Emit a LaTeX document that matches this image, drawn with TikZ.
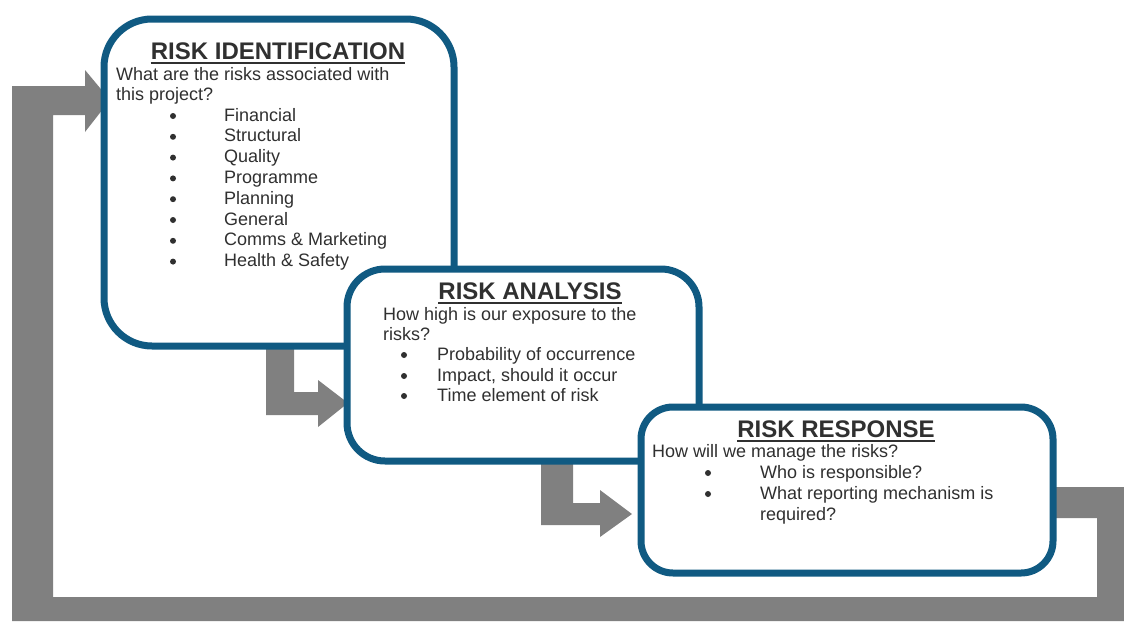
\documentclass[tikz,border=0pt]{standalone}
\usepackage{fontspec}
\setmainfont{Liberation Sans}
\definecolor{riskblue}{RGB}{16,90,130}
\definecolor{riskgrey}{RGB}{128,128,128}
\definecolor{risktext}{HTML}{303030}
\tikzset{
  riskbox/.style = {draw = riskblue, line width = 7pt, fill = white},
  blockarrow/.style = {fill = riskgrey},
  titletext/.style = {anchor = base, inner sep = 0pt, text = risktext,
    font = \fontsize{24}{28}\selectfont\bfseries},
  bodytext/.style = {anchor = base west, inner sep = 0pt, text = risktext,
    font = \fontsize{18}{20}\selectfont},
  rule/.style = {risktext, line width = 2pt}
}

\begin{document}
\begin{tikzpicture}[x = 1pt, y = -1pt]
\useasboundingbox (0,0) rectangle (1124,621);

% feedback loop from response back to identification
\fill[blockarrow] (1050,487) -- (1124,487) -- (1124,621) -- (12,621) -- (12,86)
  -- (85,86) -- (85,70) -- (110,100) -- (85,132) -- (85,115) -- (53,115)
  -- (53,597) -- (1097,597) -- (1097,518) -- (1050,518) -- cycle;
% step arrows
\fill[blockarrow] (266,349) -- (294,349) -- (294,392) -- (318,392) -- (318,380)
  -- (348,403) -- (318,427) -- (318,415) -- (266,415) -- cycle;
\fill[blockarrow] (541,460) -- (573,460) -- (573,503) -- (600,503) -- (600,490)
  -- (632,514) -- (600,537) -- (600,525) -- (541,525) -- cycle;

% identification
\draw[riskbox, rounded corners = 48pt] (104,19) rectangle (454,346);
\node[titletext] (idtitle) at (278,59) {RISK IDENTIFICATION};
\draw[rule] ([yshift = -3.5pt]idtitle.base west) -- ([yshift = -3.5pt]idtitle.base east);
\node[bodytext] (idq1) at (116,80) {What are the risks associated with};
\node[bodytext] (idq2) at (116,100) {this project?};
\node[bodytext] (id1) at (224,121) {Financial};
\node[bodytext] (id2) at (224,141.8) {Structural};
\node[bodytext] (id3) at (224,162.6) {Quality};
\node[bodytext] (id4) at (224,183.4) {Programme};
\node[bodytext] (id5) at (224,204.2) {Planning};
\node[bodytext] (id6) at (224,225) {General};
\node[bodytext] (id7) at (224,245.8) {Comms \& Marketing};
\node[bodytext] (id8) at (224,266.6) {Health \& Safety};
\fill[risktext] (173,116) circle (3pt);
\fill[risktext] (173,136.8) circle (3pt);
\fill[risktext] (173,157.6) circle (3pt);
\fill[risktext] (173,178.4) circle (3pt);
\fill[risktext] (173,199.2) circle (3pt);
\fill[risktext] (173,220) circle (3pt);
\fill[risktext] (173,240.8) circle (3pt);
\fill[risktext] (173,261.6) circle (3pt);

% analysis
\draw[riskbox, rounded corners = 38pt] (347,269) rectangle (699,461);
\node[titletext] (antitle) at (530,299) {RISK ANALYSIS};
\draw[rule] ([yshift = -3.5pt]antitle.base west) -- ([yshift = -3.5pt]antitle.base east);
\node[bodytext] (anq1) at (383,320) {How high is our exposure to the};
\node[bodytext] (anq2) at (383,340) {risks?};
\node[bodytext] (an1) at (437,360) {Probability of occurrence};
\node[bodytext] (an2) at (437,381) {Impact, should it occur};
\node[bodytext] (an3) at (437,401) {Time element of risk};
\fill[risktext] (404,355) circle (3pt);
\fill[risktext] (404,376) circle (3pt);
\fill[risktext] (404,396) circle (3pt);

% response
\draw[riskbox, rounded corners = 32pt] (641,407) rectangle (1053,573);
\node[titletext] (retitle) at (836,437) {RISK RESPONSE};
\draw[rule] ([yshift = -3.5pt]retitle.base west) -- ([yshift = -3.5pt]retitle.base east);
\node[bodytext] (req) at (652,457) {How will we manage the risks?};
\node[bodytext] (re1) at (760,478) {Who is responsible?};
\node[bodytext] (re2) at (760,499) {What reporting mechanism is};
\node[bodytext] (re3) at (760,520) {required?};
\fill[risktext] (708,473) circle (3pt);
\fill[risktext] (708,494) circle (3pt);
\end{tikzpicture}
\end{document}
